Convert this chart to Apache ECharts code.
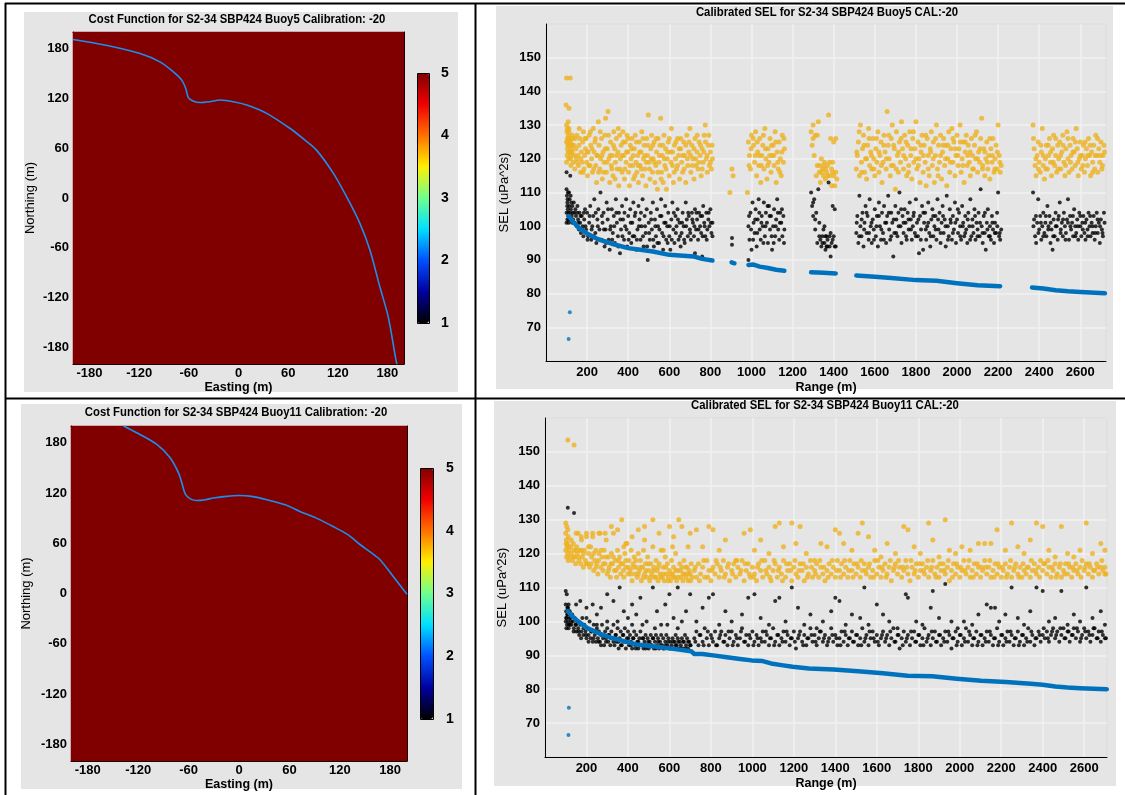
<!DOCTYPE html>
<html><head><meta charset="utf-8">
<script src="https://cdn.jsdelivr.net/npm/echarts@6/dist/echarts.min.js"></script>
<style>html,body{margin:0;padding:0;background:#fff}#c{width:1125px;height:795px}</style>
</head><body><div id="c"></div><script>
// ---------- tick labels ----------
const eastTicks = [-180,-120,-60,0,60,120,180];
const northTicks = [-180,-120,-60,0,60,120,180];
const costTicks = [1,2,3,4,5];
// ---------- cost function maps (uniform cost = 5 everywhere) ----------
const costGrid5 = [[0,0,5]];
const costGrid11 = [[0,0,5]];
// minimum-cost curves (Easting, Northing)
const curve5 = [[-200,191],[-160,184],[-119,174],[-95,164],[-78.7,152],[-68.6,142],[-63.7,132],[-60.6,121],[-55,117],[-46.5,115],[-35,116],[-22.3,118],[-6.3,116],[10,112],[34,102],[62,84],[80,70],[94,58],[114.5,30],[130.6,1.6],[146.7,-30.5],[158.8,-62.6],[170.8,-107],[180.9,-143],[191,-199],[192,-200]];
const curve11 = [[-137.5,200],[-120,191],[-97.8,178],[-82,162],[-72,144],[-68,132],[-64,119],[-58,113],[-50,111],[-40,112],[-30.5,114],[-15,116],[0,117],[15,116],[33,112],[55,106],[72.5,98],[92,90],[112,80],[130,70],[144,58.5],[157,49],[167.6,40.6],[183.4,20.7],[200,-1]];

// ---------- Buoy5 SEL ----------
const orange5 = [
[98,136],[112,135],[100,144],[118,144],[100,130],[102,128],[104,126],[106,124],[108,122],[110,120],[100,119],[103,121],[105,123],[107,125],[109,127],[111,129],[113,126],[115,124],[117,122],[119,120],[121,118],[123,121],[125,124],[127,127],[100,125],[104,129],[108,131],[112,128],[116,126],[120,125],[124,123],[128,122],[130,126],[132,119],[135,124],[138,121],[140,117],[143,126],[146,123],[148,120],
[150,127],[155,121],[158,118],[160,124],[165,126],[168,116],[172,122],[175,119],[178,125],[182,128],[185,117],[188,121],[192,123],[195,126],[198,119],[202,115],[205,122],[210,127],[214,118],[218,124],[222,120],[226,116],[230,129],[234,122],[238,125],[242,118],[246,113],[250,121],
[255,131],[258,124],[262,117],[266,120],[270,126],[274,114],[278,122],[282,119],[286,127],[290,132],[294,116],[298,123],[302,134],[306,120],[310,113],[314,125],[318,118],[322,121],[326,115],[330,128],[334,123],[338,119],[342,126],[346,117],[350,122],
[354,112],[358,127],[362,120],[366,124],[370,116],[374,128],[378,121],[382,114],[386,125],[390,119],[394,127],[398,122],[402,116],[406,112],[410,124],[414,120],[418,126],[422,118],[426,114],[430,123],[434,127],[438,119],[442,116],[446,121],[450,113],
[454,125],[458,118],[462,122],[466,128],[470,115],[474,120],[478,124],[482,117],[486,112],[490,126],[494,121],[498,133],[502,119],[506,114],[510,123],[514,127],[518,116],[522,120],[526,125],[530,113],[534,118],[538,122],[542,111],[546,126],[550,119],
[554,124],[558,132],[562,116],[566,121],[570,113],[574,127],[578,118],[582,123],[586,111],[590,120],[595,125],[600,115],[605,122],[610,129],[615,118],[620,113],[625,124],[630,120],[635,117],[640,126],[645,121],[650,114],
[655,123],[660,119],[665,116],[670,125],[675,121],[680,113],[685,127],[690,118],[695,122],[700,129],[705,116],[710,124],[715,120],[720,114],[725,126],[730,118],[735,122],[740,117],[745,125],[750,121],[755,115],[760,123],[765,119],[770,127],[775,130],[780,120],[785,116],[790,124],[795,118],[800,122],[805,117],[810,120],
[152,119],[162,129],[170,120],[180,116],[190,126],[200,122],[208,118],[216,128],[224,123],[232,117],[240,126],[248,121],[256,116],[264,128],[272,121],[280,116],[288,123],[296,119],[304,127],[312,121],[320,117],[328,124],[336,114],[344,121],[352,129],[360,117],[368,121],[376,125],[384,117],[392,122],[400,126],[408,118],[416,123],[424,121],[432,115],[440,125],[448,118],[456,122],[464,117],[472,126],[480,121],[488,119],[496,124],[504,117],[512,120],[520,124],[528,119],[536,126],[544,116],[552,121],[560,114],[568,124],[576,120],[584,117],[592,122],[600,126],[608,119],[616,122],[624,116],[632,125],[640,118],[648,123],[656,126],[664,121],[672,117],[680,124],[688,120],[696,125],[704,121],[712,118],[720,123],[728,120],[736,127],[744,119],[752,124],[760,117],[768,122],[776,125],[784,121],[792,127],[800,119],[808,124],
[895,110],[905,117],[910,115],
[980,110],[985,125],[990,121],[995,117],[1000,127],[1010,124],[1015,119],[1020,128],[1025,115],[1030,122],[1035,118],[1040,126],[1045,113],[1050,121],[1055,124],[1060,117],[1065,129],[1070,120],[1075,114],[1080,123],[1085,119],[1090,126],[1095,116],[1100,121],[1105,124],[1110,118],[1115,128],[1120,113],[1125,122],[1130,117],[1135,125],[1140,120],[1145,115],[1150,127],[1155,119],[1160,123],
[988,118],[998,123],[1008,126],[1018,121],[1028,125],[1038,121],[1048,118],[1058,127],[1068,123],[1078,118],[1088,121],[1098,124],[1108,121],[1118,125],[1128,119],[1138,116],[1148,122],[1158,126],
[1290,128],[1295,124],[1300,130],[1305,121],[1310,127],[1315,115],[1320,118],[1325,131],[1330,116],[1335,113],[1340,120],[1345,117],[1350,115],[1355,119],[1360,114],[1365,116],[1370,118],[1375,133],[1380,115],[1385,126],[1390,117],[1395,119],[1400,125],[1405,112],[1410,116],[1415,114],[1390,112],
[1330,118],[1340,116],[1350,118],[1360,117],[1370,115],[1380,119],[1395,116],[1410,126],[1400,115],[1300,126],[1320,127],
[1510,117],[1515,121],[1520,125],[1525,115],[1530,130],[1535,119],[1540,123],[1545,127],[1550,116],[1555,120],[1560,114],[1565,124],[1570,129],[1575,118],[1580,122],[1585,117],[1590,126],[1595,120],[1600,115],[1605,123],[1610,119],[1615,128],[1620,116],[1625,121],[1630,125],[1635,113],[1640,119],[1645,127],[1650,122],[1655,117],[1660,134],[1665,124],[1670,120],[1675,115],[1680,126],[1685,130],[1690,118],[1695,123],[1700,111],[1705,128],[1710,121],[1715,116],[1720,125],[1725,119],[1730,131],[1735,123],[1740,117],[1745,127],[1750,120],[1755,115],[1760,124],[1765,118],[1770,128],[1775,121],[1780,114],[1785,126],[1790,119],[1795,123],[1800,131],[1805,117],[1810,125],[1815,120],[1820,113],[1825,122],[1830,127],[1835,116],[1840,124],[1845,119],[1850,112],[1855,126],[1860,121],[1865,115],[1870,123],[1875,128],[1880,118],[1885,125],[1890,113],[1895,121],[1900,130],[1905,117],[1910,124],[1915,119],[1920,127],[1925,114],[1930,122],[1935,126],[1940,118],[1945,124],[1950,112],[1955,120],[1960,128],[1965,116],[1970,123],[1975,129],[1980,119],[1985,125],[1990,115],[1995,121],[2000,127],[2005,118],[2010,123],[2015,130],[2020,116],[2025,120],[2030,125],[2035,113],[2040,122],[2045,127],[2050,118],[2055,124],[2060,119],[2065,115],[2070,126],[2075,121],[2080,117],[2085,124],[2090,120],[2095,128],[2100,116],[2105,122],[2110,119],[2115,126],[2120,132],[2125,118],[2130,123],[2135,115],[2140,120],[2145,125],[2150,117],[2155,121],[2160,114],[2165,123],[2170,119],[2175,126],[2180,116],[2185,120],[2190,124],[2195,117],[2200,130],[2205,121],[2210,116],[2215,118],
[1512,122],[1524,128],[1536,116],[1548,124],[1560,120],[1572,126],[1584,121],[1596,117],[1608,126],[1620,122],[1632,118],[1644,124],[1656,120],[1668,127],[1680,118],[1692,124],[1704,117],[1716,122],[1728,126],[1740,121],[1752,125],[1764,116],[1776,123],[1788,128],[1800,120],[1812,118],[1824,124],[1836,121],[1848,127],[1860,117],[1872,122],[1884,120],[1896,126],[1908,115],[1920,121],[1932,124],[1944,120],[1956,124],[1968,119],[1980,126],[1992,123],[2004,121],[2016,125],[2028,118],[2040,125],[2052,121],[2064,122],[2076,117],[2088,127],[2100,120],[2112,123],[2124,117],[2136,122],[2148,119],[2160,126],[2172,121],[2184,117],[2196,122],[2208,119],
[2370,130],[2375,123],[2380,118],[2385,115],[2390,121],[2395,125],[2400,119],[2405,116],[2410,122],[2415,129],[2420,118],[2425,114],[2430,120],[2435,124],[2440,117],[2445,121],[2450,126],[2455,119],[2460,115],[2465,123],[2470,127],[2475,118],[2480,121],[2485,116],[2490,124],[2495,120],[2500,125],[2505,117],[2510,122],[2515,127],[2520,119],[2525,115],[2530,123],[2535,128],[2540,120],[2545,116],[2550,124],[2555,121],[2560,117],[2565,126],[2570,122],[2575,118],[2580,129],[2585,123],[2590,115],[2595,120],[2600,125],[2605,117],[2610,121],[2615,124],[2620,116],[2625,120],[2630,123],[2635,118],[2640,126],[2645,121],[2650,115],[2655,122],[2660,119],[2665,124],[2670,117],[2675,127],[2680,121],[2685,116],[2690,123],[2695,119],[2700,125],[2705,117],[2710,121],[2715,124],
[2372,126],[2384,120],[2396,117],[2408,124],[2420,121],[2432,117],[2444,124],[2456,122],[2468,119],[2480,126],[2492,117],[2504,121],[2516,124],[2528,118],[2540,126],[2552,119],[2564,122],[2576,125],[2588,119],[2600,121],[2612,118],[2624,125],[2636,121],[2648,124],[2660,116],[2672,121],[2684,126],[2696,121],[2708,118],[2718,122]
];
const black5 = [
[100,116],[118,115],[100,111],[102,109],[104,107],[106,105],[108,103],[110,101],[100,104],[103,106],[105,108],[107,110],[109,104],[111,102],[113,106],[115,108],[117,104],[119,102],[121,105],[123,107],[125,103],[127,101],[100,101],[104,102],[112,110],[120,109],[128,106],[130,104],[132,102],[135,107],[138,104],[140,101],[143,105],[146,103],[150,100],[153,106],[156,102],[160,99],[163,104],[166,101],[170,98],[174,103],[178,100],[182,97],[186,102],[190,105],
[195,99],[200,104],[205,97],[210,101],[215,106],[220,96],[225,100],[230,103],[235,108],[240,98],[245,95],[250,102],[255,105],[260,99],[265,110],[270,96],[275,101],[280,104],[285,94],[290,99],[295,107],[300,102],[305,96],[310,93],[315,100],[320,105],[325,98],[330,103],[335,95],[340,108],[345,101],[350,97],[355,104],[360,92],[365,99],[370,106],[375,102],[380,96],[385,100],[390,108],[395,94],[400,103],[405,98],[410,105],[415,95],[420,101],[425,107],[430,97],[435,104],[440,93],[445,99],[450,106],[455,102],[460,96],[465,100],[470,108],[475,94],[480,103],[485,98],[490,105],[495,90],[500,101],[505,96],[510,104],[515,99],[520,107],[525,94],[530,102],[535,97],[540,105],[545,100],[550,95],[555,103],[560,108],[565,98],[570,93],[575,101],[580,106],[585,96],[590,100],[595,104],[600,97],[605,93],[610,102],[615,107],[620,99],[625,95],[630,103],[635,100],[640,105],[645,96],[650,101],[655,94],[660,98],[665,104],[670,100],[675,95],[680,107],[685,102],[690,97],[695,103],[700,99],[705,96],[710,104],[715,101],[720,97],[725,105],[730,99],[735,102],[740,96],[745,104],[750,100],[755,98],[760,103],[765,106],[770,101],[775,97],[780,104],[785,99],[790,102],[795,100],[800,105],[805,98],[810,101],[725,92],[760,91],
[152,104],[158,101],[168,103],[176,99],[184,104],[192,100],[202,96],[212,103],[222,99],[232,97],[242,104],[252,100],[262,96],[272,103],[282,99],[292,95],[302,105],[312,99],[322,96],[332,100],[342,104],[352,94],[362,102],[372,97],[382,104],[392,99],[402,96],[412,101],[422,97],[432,103],[442,96],[452,100],[462,104],[472,97],[482,100],[492,94],[502,98],[512,102],[522,96],[532,100],[542,95],[552,99],[562,103],[572,97],[582,101],[592,95],[602,100],[612,96],[622,104],[632,98],[642,102],[652,97],[662,101],[672,96],[682,100],[692,104],[702,98],[712,102],[722,100],[732,104],[742,99],[752,103],[762,97],[772,100],[782,96],[792,104],[802,101],[810,97],
[905,96.5],[905,94.5],[985,90],
[985,100],[990,96],[995,104],[1000,93],[1005,107],[1010,101],[1015,98],[1020,105],[1025,94],[1030,102],[1035,108],[1040,99],[1045,96],[1050,103],[1055,100],[1060,107],[1065,97],[1070,104],[1075,101],[1080,95],[1085,106],[1090,99],[1095,103],[1100,93],[1105,100],[1110,105],[1115,97],[1120,102],[1125,108],[1130,99],[1135,96],[1140,104],[1145,101],[1150,97],[1155,103],[1160,99],
[988,103],[998,99],[1008,96],[1018,102],[1028,98],[1038,104],[1048,101],[1058,95],[1068,100],[1078,106],[1088,103],[1098,97],[1108,95],[1118,100],[1128,104],[1138,101],[1148,105],[1158,95],
[1290,110],[1295,106],[1300,103],[1305,108],[1310,99],[1315,104],[1320,95],[1325,111],[1330,101],[1335,96],[1340,94],[1345,97],[1350,99],[1355,95],[1360,93],[1365,97],[1370,96],[1375,113],[1380,94],[1385,98],[1390,95],[1395,106],[1400,97],[1405,105],[1410,94],[1385,91],[1355,100],[1365,94],
[1330,97],[1345,95],[1360,97],[1370,94],[1380,97],[1395,96],[1405,94],[1310,102],[1300,107],
[1510,98],[1515,103],[1520,95],[1525,109],[1530,100],[1535,97],[1540,104],[1545,94],[1550,101],[1555,106],[1560,98],[1565,103],[1570,96],[1575,108],[1580,100],[1585,95],[1590,102],[1595,99],[1600,105],[1605,97],[1610,103],[1615,94],[1620,107],[1625,100],[1630,96],[1635,104],[1640,98],[1645,106],[1650,101],[1655,95],[1660,103],[1665,109],[1670,99],[1675,96],[1680,104],[1685,101],[1690,91],[1695,98],[1700,106],[1705,102],[1710,97],[1715,104],[1720,110],[1725,100],[1730,95],[1735,103],[1740,98],[1745,105],[1750,101],[1755,96],[1760,104],[1765,99],[1770,107],[1775,102],[1780,96],[1785,100],[1790,104],[1795,98],[1800,108],[1805,101],[1810,97],[1815,92],[1820,103],[1825,99],[1830,106],[1835,93],[1840,101],[1845,104],[1850,96],[1855,100],[1860,107],[1865,98],[1870,94],[1875,102],[1880,105],[1885,97],[1890,100],[1895,103],[1900,96],[1905,108],[1910,99],[1915,104],[1920,95],[1925,101],[1930,106],[1935,98],[1940,102],[1945,94],[1950,109],[1955,100],[1960,97],[1965,105],[1970,101],[1975,96],[1980,103],[1985,99],[1990,107],[1995,95],[2000,102],[2005,98],[2010,104],[2015,100],[2020,96],[2025,106],[2030,101],[2035,97],[2040,103],[2045,99],[2050,95],[2055,104],[2060,100],[2065,108],[2070,97],[2075,102],[2080,98],[2085,105],[2090,96],[2095,101],[2100,99],[2105,104],[2110,97],[2115,111],[2120,100],[2125,95],[2130,103],[2135,98],[2140,93],[2145,101],[2150,105],[2155,97],[2160,100],[2165,96],[2170,103],[2175,99],[2180,95],[2185,101],[2190,98],[2195,104],[2200,110],[2205,97],[2210,96],[2215,99],
[1512,101],[1524,97],[1536,102],[1548,99],[1560,104],[1572,98],[1584,101],[1596,96],[1608,100],[1620,103],[1632,99],[1644,96],[1656,101],[1668,104],[1680,97],[1692,102],[1704,98],[1716,100],[1728,105],[1740,101],[1752,97],[1764,102],[1776,99],[1788,103],[1800,97],[1812,102],[1824,96],[1836,104],[1848,99],[1860,101],[1872,97],[1884,103],[1896,99],[1908,102],[1920,98],[1932,103],[1944,100],[1956,96],[1968,102],[1980,98],[1992,101],[2004,105],[2016,97],[2028,100],[2040,98],[2052,102],[2064,96],[2076,100],[2088,103],[2100,97],[2112,101],[2124,98],[2136,104],[2148,99],[2160,97],[2172,101],[2184,98],[2196,100],[2208,98],
[2370,110],[2375,102],[2380,97],[2385,95],[2390,101],[2395,108],[2400,99],[2405,103],[2410,96],[2415,100],[2420,104],[2425,98],[2430,101],[2435,97],[2440,106],[2445,100],[2450,103],[2455,95],[2460,99],[2465,93],[2470,102],[2475,97],[2480,104],[2485,100],[2490,96],[2495,103],[2500,107],[2505,99],[2510,101],[2515,97],[2520,104],[2525,100],[2530,98],[2535,102],[2540,108],[2545,96],[2550,103],[2555,99],[2560,101],[2565,97],[2570,105],[2575,100],[2580,98],[2585,102],[2590,96],[2595,104],[2600,100],[2605,97],[2610,101],[2615,103],[2620,98],[2625,96],[2630,102],[2635,99],[2640,104],[2645,100],[2650,97],[2655,101],[2660,98],[2665,103],[2670,96],[2675,100],[2680,104],[2685,98],[2690,101],[2695,95],[2700,102],[2705,99],[2710,97],[2715,104],
[2372,100],[2384,103],[2396,98],[2408,101],[2420,97],[2432,103],[2444,99],[2456,101],[2468,97],[2480,100],[2492,102],[2504,98],[2516,102],[2528,96],[2540,101],[2552,100],[2564,103],[2576,97],[2588,100],[2600,103],[2612,99],[2624,101],[2636,97],[2648,103],[2660,100],[2672,98],[2684,102],[2696,100],[2708,98],[2718,101]
];
const blue5Segments = [
[[110,103],[130,101.5],[160,99.5],[200,97.8],[250,96.2],[320,94.8],[400,93.5],[460,93],[520,92.5],[600,91.5],[720,91],[760,90.3],[810,89.8]],
[[903,89.3],[917,89.0]],
[[985,88.5],[1010,88.6],[1040,88.0],[1080,87.6],[1120,87.1],[1160,86.8]],
[[1290,86.3],[1350,86.2],[1410,86.0]],
[[1510,85.4],[1600,85.0],[1680,84.6],[1800,84.0],[1900,83.8],[2000,83.1],[2100,82.5],[2210,82.2]],
[[2365,81.8],[2420,81.5],[2480,81.0],[2540,80.7],[2600,80.5],[2720,80.1]]
];
const blue5Outliers = [[116,74.5],[110,66.5]];

// ---------- Buoy11 SEL ----------
const orange11 = [
[110,153.5],[140,152],[100,129],[105,128],[110,127],[100,126],[103,124],[106,122],[109,120],[112,118],[100,121],[104,119],[108,123],[112,125],[116,121],[120,119],[124,122],[128,120],[132,118],[136,123],[140,121],[144,119],[148,117],[152,122],[156,120],[160,126],[164,118],[168,121],[172,117],[176,124],[180,119],[185,116],[190,121],[195,118],[200,125],[205,117],[210,120],[215,116],[220,122],[225,119],[230,125],[235,115],[240,118],[245,121],[250,117],[255,114],[260,120],[265,126],[270,116],[275,119],[280,115],[285,121],[290,117],[295,124],[300,114],[305,119],[310,116],[315,113],[320,120],[325,117],[330,126],[335,115],[340,118],[345,113],[350,121],[355,116],[360,119],[365,114],[370,130],[375,117],[380,113],[385,120],[390,116],[395,123],[400,114],[405,118],[410,115],[415,121],[420,112],[425,117],[430,119],[435,114],[440,116],[445,113],[450,120],[455,115],[460,118],[465,112],[470,116],[475,121],[480,114],[485,117],[490,113],[495,119],[500,115],[505,112],[510,117],[515,114],[520,130],[525,116],[530,113],[535,118],[540,115],[545,112],[550,117],[555,114],[560,121],[565,113],[570,116],[575,112],[580,119],[585,114],[590,117],[595,113],[600,115],[605,112],[610,118],[615,114],[620,116],[625,113],[630,120],[635,112],[640,115],[645,130],[650,117],[655,113],[660,116],[665,112],[670,118],[675,114],[680,113],[685,116],[690,112],[695,115],[700,114],[705,117],[710,113],
[102,123],[114,122],[126,124],[138,119],[150,121],[162,119],[174,121],[186,120],[198,117],[210,122],[222,117],[234,120],[246,116],[258,118],[270,121],[282,117],[294,119],[306,115],[318,117],[330,119],[342,115],[354,118],[366,117],[378,115],[390,118],[402,116],[414,114],[426,116],[438,118],[450,114],[462,116],[474,113],[486,115],[498,117],[510,113],[522,115],[534,113],[546,116],[558,113],[570,114],[582,116],[594,112],[606,114],[618,113],[630,115],[642,113],[654,115],[666,114],[678,116],[690,114],[702,112],
[150,126],[175,125],[200,126],[230,126],[260,126],[290,126],[320,128],[350,127],[390,123],[420,125],[450,127],[480,124],[520,122],[550,126],[570,121],[600,128],[620,125],[660,128],[690,122],[700,126],[615,122],[480,128],[380,122],
[720,115],[730,113],[740,117],[750,114],[760,116],[770,113],[780,118],[790,115],[800,112],[810,116],[820,114],[830,117],[840,113],[850,115],[860,118],[870,114],[880,116],[890,112],[900,115],[910,117],[920,113],[930,116],[940,114],[950,118],[960,112],[970,115],[980,117],[990,113],[1000,116],[1010,114],[1020,112],[1030,117],[1040,115],[1050,113],[1060,118],[1070,114],[1080,116],[1090,112],[1100,115],[1110,117],[1120,113],[1130,116],[1140,114],[1150,118],[1160,113],[1170,115],[1180,117],[1190,112],[1200,116],[1210,114],[1220,113],[1230,117],[1240,115],[1250,112],[1260,116],[1270,114],[1280,118],[1290,113],[1300,115],[1310,117],[1320,113],[1330,116],[1340,114],[1350,112],[1360,115],[1370,117],[1380,114],[1390,116],[1400,113],[1410,118],[1420,115],[1430,117],[1440,114],[1450,116],[1460,113],[1470,118],[1480,115],[1490,117],[1500,114],[1510,116],[1520,113],[1530,115],[1540,117],[1550,114],[1560,116],[1570,113],[1580,115],[1590,118],[1600,114],[1610,116],[1620,113],[1630,115],[1640,117],[1650,114],[1660,116],[1670,112],[1680,115],[1690,117],[1700,114],[1710,116],[1720,113],[1730,115],[1740,118],[1750,114],[1760,112],[1770,116],[1780,114],[1790,117],[1800,113],[1810,115],[1820,117],[1830,114],[1840,116],[1850,113],[1860,115],[1870,118],[1880,114],[1890,116],[1900,113],[1910,115],[1920,117],[1930,114],[1940,116],[1950,112],[1960,115],[1970,117],[1980,114],[1990,116],[2000,113],[2010,115],[2020,118],[2030,114],[2040,116],[2050,113],[2060,115],[2070,117],[2080,114],[2090,116],[2100,113],[2110,115],[2120,118],[2130,114],[2140,116],[2150,113],[2160,115],[2170,117],[2180,114],[2190,116],[2200,113],[2210,115],[2220,117],[2230,114],[2240,116],[2250,113],[2260,115],[2270,117],[2280,114],[2290,116],[2300,113],[2310,115],[2320,114],[2330,116],[2340,113],[2350,115],[2360,117],[2370,114],[2380,116],[2390,118],[2400,115],[2410,117],[2420,114],[2430,116],[2440,113],[2450,115],[2460,117],[2470,114],[2480,116],[2490,113],[2500,115],[2510,117],[2520,114],[2530,116],[2540,113],[2550,115],[2560,117],[2570,114],[2580,116],[2590,118],[2600,115],[2610,117],[2620,114],[2630,116],[2640,113],[2650,115],[2660,117],[2670,114],[2680,116],[2690,115],[2700,116],[2705,114],
[725,116],[745,112],[765,118],[785,113],[805,115],[825,118],[845,116],[865,113],[885,117],[905,114],[925,118],[945,115],[965,117],[985,114],[1005,113],[1025,116],[1045,118],[1065,115],[1085,113],[1105,118],[1125,115],[1145,112],[1165,117],[1185,115],[1205,118],[1225,115],[1245,117],[1265,113],[1285,116],[1305,114],[1325,118],[1345,116],[1365,113],[1385,118],[1405,115],[1425,113],[1445,118],[1465,115],[1485,113],[1505,117],[1525,118],[1545,115],[1565,117],[1585,113],[1605,118],[1625,116],[1645,113],[1665,118],[1685,116],[1705,118],[1725,116],[1745,116],[1765,118],[1785,115],[1805,117],[1825,115],[1845,118],[1865,116],[1885,113],[1905,117],[1925,115],[1945,118],[1965,113],[1985,117],[2005,116],[2025,115],[2045,118],[2065,113],[2085,117],[2105,116],[2125,116],[2145,118],[2165,113],[2185,117],[2205,116],[2225,113],[2245,118],[2265,116],[2285,113],[2305,117],[2325,116],[2345,118],[2365,115],[2385,113],[2405,117],[2425,118],[2445,116],[2465,113],[2485,117],[2505,114],[2525,117],[2545,116],[2565,115],[2585,113],[2605,116],[2625,117],[2645,115],[2665,116],[2685,118],[2700,114],
[730,127],[760,122],[790,128],[810,127],[840,121],[870,124],[920,118],[960,126],[990,127],[1010,121],[1040,124],[1080,120],[1110,128],[1130,129],[1150,122],[1190,129],[1210,123],[1230,128],[1260,120],[1300,118],[1330,123],[1360,122],[1400,127],[1420,126],[1440,123],[1480,121],[1510,126],[1530,129],[1560,125],[1590,121],[1620,119],[1650,123],[1690,120],[1730,128],[1750,127],[1780,122],[1810,120],[1850,129],[1870,124],[1900,119],[1930,130],[1950,121],[1980,120],[2010,122],[2050,121],[2090,123],[2120,123],[2150,123],[2180,127],[2220,121],[2250,129],[2280,122],[2310,120],[2340,124],[2370,129],[2400,128],[2430,121],[2460,119],[2490,128],[2520,120],[2550,119],[2580,121],[2610,129],[2640,120],[2680,123],[2700,121]
];
const black11 = [
[110,133.5],[140,132],[100,109],[105,108],[100,105],[102,103],[104,101],[106,99],[108,104],[110,102],[112,100],[114,105],[116,103],[118,101],[120,99],[100,100],[103,98],[107,102],[111,104],[115,99],[119,103],[123,101],[127,99],[131,102],[135,100],[139,98],[143,101],[147,99],[151,97],[155,100],[160,98],[165,96],[170,99],[175,97],[180,101],[185,96],[190,99],[195,97],[200,95],[205,98],[210,96],[215,100],[220,95],[225,97],[230,94],[235,99],[240,96],[245,94],[250,98],[255,95],[260,97],[265,94],[270,96],[275,99],[280,95],[285,93],[290,97],[295,95],[300,98],[305,94],[310,96],[315,93],[320,97],[325,95],[330,99],[335,93],[340,96],[345,94],[350,98],[355,92],[360,95],[365,97],[370,93],[375,96],[380,94],[385,98],[390,92],[395,95],[400,97],[405,93],[410,96],[415,94],[420,92],[425,95],[430,97],[435,93],[440,96],[445,94],[450,92],[455,95],[460,97],[465,93],[470,95],[475,92],[480,94],[485,96],[490,93],[495,95],[500,92],[505,94],[510,96],[515,93],[520,95],[525,92],[530,94],[535,96],[540,93],[545,95],[550,92],[555,94],[560,96],[565,93],[570,95],[575,92],[580,94],[585,96],[590,93],[595,95],[600,92],[605,94],[610,93],[615,95],[620,92],[625,94],[630,96],[635,93],[640,95],[645,92],[650,94],[655,93],[660,95],[665,92],[670,94],[675,96],[680,93],[685,95],[690,92],[695,94],[700,93],
[102,101],[114,98],[126,100],[138,97],[150,99],[162,97],[174,95],[186,98],[198,96],[210,94],[222,97],[234,95],[246,97],[258,94],[270,93],[282,96],[294,94],[306,96],[318,95],[330,94],[342,96],[354,94],[366,93],[378,96],[390,94],[402,95],[414,93],[426,95],[438,92],[450,94],[462,93],[474,95],[486,92],[498,94],[510,93],[522,95],[534,92],[546,94],[558,93],[570,92],[582,93],[594,94],[606,92],[618,94],[630,93],[642,94],[654,92],[666,94],[678,92],[690,94],[702,93],
[150,105],[170,106],[200,104],[230,105],[250,102],[270,104],[300,108],[330,106],[360,110],[380,103],[400,101],[420,105],[440,102],[460,107],[490,100],[520,110],[540,103],[560,99],[580,105],[600,108],[620,101],[640,110],[660,100],[680,103],[700,108],[350,100],[420,99],[470,99],[530,98],[590,99],[640,98],[250,99],[300,100],[200,101],
[720,95],[730,97],[740,93],[750,96],[760,94],[770,98],[780,95],[790,93],[800,96],[810,94],[820,97],[830,93],[840,95],[850,97],[860,94],[870,96],[880,93],[890,95],[900,97],[910,94],[920,96],[930,93],[940,95],[950,98],[960,94],[970,96],[980,93],[990,95],[1000,97],[1010,94],[1020,96],[1030,93],[1040,95],[1050,97],[1060,94],[1070,96],[1080,93],[1090,95],[1100,98],[1110,94],[1120,96],[1130,93],[1140,95],[1150,97],[1160,94],[1170,96],[1180,93],[1190,95],[1200,97],[1210,92],[1220,95],[1230,97],[1240,94],[1250,96],[1260,93],[1270,95],[1280,98],[1290,94],[1300,96],[1310,93],[1320,95],[1330,97],[1340,94],[1350,96],[1360,93],[1370,95],[1380,98],[1390,94],[1400,96],[1410,93],[1420,95],[1430,97],[1440,94],[1450,96],[1460,93],[1470,95],[1480,97],[1490,94],[1500,96],[1510,93],[1520,95],[1530,98],[1540,94],[1550,96],[1560,93],[1570,95],[1580,97],[1590,94],[1600,96],[1610,93],[1620,95],[1630,97],[1640,94],[1650,96],[1660,93],[1670,95],[1680,98],[1690,94],[1700,96],[1710,92],[1720,95],[1730,97],[1740,94],[1750,96],[1760,93],[1770,95],[1780,97],[1790,94],[1800,96],[1810,93],[1820,95],[1830,98],[1840,94],[1850,96],[1860,93],[1870,95],[1880,97],[1890,94],[1900,96],[1910,93],[1920,95],[1930,97],[1940,94],[1950,96],[1960,92],[1970,95],[1980,97],[1990,94],[2000,96],[2010,93],[2020,95],[2030,98],[2040,94],[2050,96],[2060,93],[2070,95],[2080,97],[2090,94],[2100,96],[2110,93],[2120,95],[2130,97],[2140,94],[2150,96],[2160,93],[2170,95],[2180,98],[2190,94],[2200,96],[2210,93],[2220,95],[2230,97],[2240,94],[2250,96],[2260,93],[2270,95],[2280,97],[2290,94],[2300,96],[2310,93],[2320,95],[2330,98],[2340,94],[2350,96],[2360,93],[2370,95],[2380,97],[2390,94],[2400,96],[2410,95],[2420,97],[2430,94],[2440,96],[2450,98],[2460,95],[2470,97],[2480,94],[2490,96],[2500,98],[2510,95],[2520,97],[2530,94],[2540,96],[2550,98],[2560,95],[2570,97],[2580,94],[2590,96],[2600,98],[2610,95],[2620,97],[2630,94],[2640,96],[2650,98],[2660,95],[2670,97],[2680,94],[2690,96],[2700,95],
[725,94],[745,96],[765,93],[785,97],[805,95],[825,93],[845,96],[865,94],[885,97],[905,93],[925,95],[945,97],[965,94],[985,96],[1005,93],[1025,95],[1045,94],[1065,97],[1085,95],[1105,93],[1125,96],[1145,94],[1165,97],[1185,95],[1205,94],[1225,96],[1245,93],[1265,95],[1285,96],[1305,94],[1325,97],[1345,95],[1365,94],[1385,96],[1405,95],[1425,93],[1445,97],[1465,95],[1485,94],[1505,96],[1525,93],[1545,95],[1565,97],[1585,95],[1605,94],[1625,96],[1645,95],[1665,97],[1685,94],[1705,96],[1725,93],[1745,95],[1765,97],[1785,94],[1805,96],[1825,93],[1845,95],[1865,97],[1885,94],[1905,96],[1925,94],[1945,97],[1965,95],[1985,93],[2005,96],[2025,94],[2045,97],[2065,95],[2085,93],[2105,96],[2125,94],[2145,97],[2165,95],[2185,93],[2205,96],[2225,94],[2245,97],[2265,95],[2285,93],[2305,96],[2325,94],[2345,97],[2365,95],[2385,96],[2405,98],[2425,95],[2445,97],[2465,96],[2485,98],[2505,95],[2525,97],[2545,96],[2565,98],[2585,95],[2605,97],[2625,96],[2645,98],[2665,95],[2685,97],[2705,95],
[730,100],[760,104],[790,107],[810,108],[840,99],[870,103],[900,100],[950,102],[980,107],[1010,108],[1040,101],[1080,99],[1110,106],[1130,107],[1160,100],[1190,110],[1220,104],[1250,99],[1280,102],[1310,98],[1340,100],[1380,103],[1400,107],[1420,106],[1450,99],[1480,102],[1520,101],[1540,110],[1560,99],[1600,105],[1630,102],[1660,100],[1700,98],[1740,108],[1750,107],[1790,100],[1820,99],[1860,104],[1870,109],[1900,101],[1930,111],[1960,100],[1990,98],[2020,100],[2060,99],[2090,102],[2130,105],[2150,104],[2170,104],[2190,100],[2220,102],[2250,110],[2280,101],[2310,99],[2340,103],[2370,110],[2400,109],[2430,100],[2460,101],[2490,109],[2520,99],[2550,102],[2580,100],[2610,110],[2640,101],[2680,103],[2700,99]
];
const blue11Segments = [
[[110,103],[130,101.6],[160,100],[204,98],[260,96.5],[322,95.1],[380,94.2],[441,93.2],[500,92.8],[560,92.4],[620,91.9],[679,91.4],[705,91.2],[720,90.4],[758,90.4],[820,89.9],[877,89.4],[940,88.9],[996,88.5],[1050,88.3],[1090,87.6],[1140,87.1],[1194,86.6],[1273,86.1],[1392,85.8],[1510,85.3],[1629,84.7],[1748,84.0],[1867,83.8],[1985,83.1],[2104,82.5],[2223,82.1],[2342,81.6],[2400,81.3],[2461,80.8],[2520,80.5],[2580,80.3],[2709,80.0]]
];
const blue11Outliers = [[115,74.5],[113,66.5]];

// ---------- styling ----------
const FONT = "'Liberation Sans', Arial, sans-serif";
const jet = ['#000000','#00009f','#0050ff','#00dfff','#70ff8f','#ffef00','#ff7000','#ef0000','#800000'];
const ORANGE = '#EDB120', BLACK = '#000000', BLUE = '#0072BD';

const grids = [
  {left:73, top:32, width:331, height:332},   // 0 map Buoy5
  {left:417, top:73, width:12, height:250},   // 1 colorbar Buoy5
  {left:546, top:24, width:560, height:337},  // 2 SEL Buoy5
  {left:71, top:426, width:336, height:335},  // 3 map Buoy11
  {left:420, top:468, width:13, height:251},  // 4 colorbar Buoy11
  {left:545, top:418, width:562, height:339}  // 5 SEL Buoy11
];
grids.forEach(g => { g.containLabel = false; });
grids[2].show = true; grids[2].borderColor = '#7a7a7a'; grids[2].borderWidth = 1;
grids[5].show = true; grids[5].borderColor = '#7a7a7a'; grids[5].borderWidth = 1;

const xAxes = [], yAxes = [], series = [], visualMaps = [];
function lbl(extra){ return Object.assign({color:'#000', fontFamily:FONT, fontWeight:'bold', fontSize:13}, extra||{}); }
const plain = v => String(v);

function mapPanel(gi, cbGi, costGrid, curve, nameGapX, nameGapY, vm) {
  const xi = xAxes.length, yi = yAxes.length;
  const tick = {show:true, inside:true, length:5, lineStyle:{color:'#000'}};
  xAxes.push({gridIndex:gi, type:'value', min:-200, max:200, position:'bottom',
    axisLine:{show:true, onZero:false, lineStyle:{color:'#000'}},
    axisTick:Object.assign({customValues:eastTicks}, tick),
    axisLabel:lbl({margin:3, customValues:eastTicks}), splitLine:{show:false},
    name:'Easting (m)', nameLocation:'middle', nameGap:nameGapX, nameTextStyle:lbl({fontSize:12.5})});
  xAxes.push({gridIndex:gi, type:'value', min:-200, max:200, position:'top',
    axisLine:{show:true, onZero:false, lineStyle:{color:'#000'}},
    axisTick:Object.assign({customValues:eastTicks}, tick), axisLabel:{show:false}, splitLine:{show:false}});
  xAxes.push({gridIndex:gi, type:'category', data:['cost'], show:false});
  yAxes.push({gridIndex:gi, type:'value', min:-200, max:200, position:'left',
    axisLine:{show:true, onZero:false, lineStyle:{color:'#000'}},
    axisTick:Object.assign({customValues:northTicks}, tick),
    axisLabel:lbl({margin:4, customValues:northTicks}), splitLine:{show:false},
    name:'Northing (m)', nameLocation:'middle', nameGap:nameGapY, nameRotate:90,
    nameTextStyle:lbl({fontWeight:'normal', fontSize:13})});
  yAxes.push({gridIndex:gi, type:'value', min:-200, max:200, position:'right',
    axisLine:{show:true, onZero:false, lineStyle:{color:'#000'}},
    axisTick:Object.assign({customValues:northTicks}, tick), axisLabel:{show:false}, splitLine:{show:false}});
  yAxes.push({gridIndex:gi, type:'category', data:['cost'], show:false});
  const hIdx = series.length;
  series.push({type:'heatmap', xAxisIndex:xi+2, yAxisIndex:yi+2, data:costGrid, silent:true, z:1});
  series.push({type:'line', xAxisIndex:xi, yAxisIndex:yi, data:curve, showSymbol:false, silent:true, smooth:0.3,
    lineStyle:{color:'#1c8ef0', width:1.6}, z:5});
  // colorbar axes
  xAxes.push({gridIndex:cbGi, type:'category', data:['c'], show:false});
  yAxes.push({gridIndex:cbGi, type:'value', min:1, max:5, interval:1, position:'right',
    axisLine:{show:false}, axisTick:{show:true, inside:true, length:3, lineStyle:{color:'#333'}},
    axisLabel:lbl({margin:vm.margin, fontSize:14, customValues:costTicks}), splitLine:{show:false}});
  visualMaps.push({type:'continuous', seriesIndex:hIdx, min:1, max:5, calculable:false, hoverLink:false,
    left:vm.left, top:vm.top, itemWidth:vm.w, itemHeight:vm.h, padding:0, inRange:{color:jet}, z:3});
}

function selPanel(gi, xmax, orange, black, blueSegs, blueOut, nameGapY) {
  const xi = xAxes.length, yi = yAxes.length;
  xAxes.push({gridIndex:gi, type:'value', min:0, max:xmax, interval:200,
    axisLine:{show:true, onZero:false, lineStyle:{color:'#000'}}, axisTick:{show:false},
    axisLabel:lbl({margin:5, showMinLabel:false, showMaxLabel:false, formatter:plain}),
    splitLine:{show:true, lineStyle:{color:'#f1f1f1', width:1.5}},
    name:'Range (m)', nameLocation:'middle', nameGap:20, nameTextStyle:lbl({fontSize:12.5})});
  yAxes.push({gridIndex:gi, type:'value', min:60, max:160, interval:10,
    axisLine:{show:true, onZero:false, lineStyle:{color:'#000'}}, axisTick:{show:false},
    axisLabel:lbl({margin:5, showMinLabel:false, showMaxLabel:false, formatter:plain}),
    splitLine:{show:true, lineStyle:{color:'#f1f1f1', width:1.5}},
    name:'SEL (uPa^2s)', nameLocation:'middle', nameGap:nameGapY, nameRotate:90,
    nameTextStyle:lbl({fontWeight:'normal', fontSize:13})});
  series.push({type:'scatter', xAxisIndex:xi, yAxisIndex:yi, data:orange, symbol:'circle', symbolSize:5,
    itemStyle:{color:ORANGE}, silent:true, z:2});
  series.push({type:'scatter', xAxisIndex:xi, yAxisIndex:yi, data:black, symbol:'circle', symbolSize:4,
    itemStyle:{color:BLACK}, silent:true, z:3});
  blueSegs.forEach(seg => series.push({type:'line', xAxisIndex:xi, yAxisIndex:yi, data:seg, showSymbol:false,
    silent:true, lineStyle:{color:BLUE, width:4.5, cap:'round', join:'round'}, z:4}));
  series.push({type:'scatter', xAxisIndex:xi, yAxisIndex:yi, data:blueOut, symbol:'circle', symbolSize:4,
    itemStyle:{color:BLUE}, silent:true, z:4});
}

mapPanel(0, 1, costGrid5, curve5, 16, 36, {left:417, top:73, w:12, h:250, margin:12});
selPanel(2, 2725, orange5, black5, blue5Segments, blue5Outliers, 35);
mapPanel(3, 4, costGrid11, curve11, 17, 38, {left:420, top:468, w:13, h:251, margin:13});
selPanel(5, 2710, orange11, black11, blue11Segments, blue11Outliers, 36);

function title(x, y, s) {
  return {type:'text', x:x, y:y, scaleX:0.84, silent:true, z:50,
    style:{text:s, fill:'#000', font:'bold 13.5px ' + FONT, textAlign:'center', textVerticalAlign:'middle'}};
}
const graphic = [
  {type:'rect', shape:{x:24, y:12, width:434, height:380}, style:{fill:'#e5e5e5'}, z:-10, silent:true},
  {type:'rect', shape:{x:496, y:6, width:617, height:383}, style:{fill:'#e5e5e5'}, z:-10, silent:true},
  {type:'rect', shape:{x:21, y:404, width:441, height:385}, style:{fill:'#e5e5e5'}, z:-10, silent:true},
  {type:'rect', shape:{x:494, y:401, width:622, height:385}, style:{fill:'#e5e5e5'}, z:-10, silent:true},
  {type:'line', shape:{x1:5, y1:3.5, x2:1125, y2:3.5}, style:{stroke:'#000', lineWidth:2}, z:60, silent:true},
  {type:'line', shape:{x1:5, y1:398.5, x2:1125, y2:398.5}, style:{stroke:'#000', lineWidth:2}, z:60, silent:true},
  {type:'line', shape:{x1:5.5, y1:3, x2:5.5, y2:795}, style:{stroke:'#000', lineWidth:2}, z:60, silent:true},
  {type:'line', shape:{x1:475.5, y1:3, x2:475.5, y2:795}, style:{stroke:'#000', lineWidth:2}, z:60, silent:true},
  {type:'rect', shape:{x:417.5, y:73.5, width:12, height:250}, style:{fill:'none', stroke:'#000', lineWidth:1}, z:60, silent:true},
  {type:'rect', shape:{x:420.5, y:468.5, width:13, height:251}, style:{fill:'none', stroke:'#000', lineWidth:1}, z:60, silent:true},
  title(237, 19, 'Cost Function for S2-34 SBP424 Buoy5 Calibration: -20'),
  title(827, 12, 'Calibrated SEL for S2-34 SBP424 Buoy5 CAL:-20'),
  title(236, 412, 'Cost Function for S2-34 SBP424 Buoy11 Calibration: -20'),
  title(825, 405, 'Calibrated SEL for S2-34 SBP424 Buoy11 CAL:-20')
];

const chart = echarts.init(document.getElementById('c'), null, {renderer:'canvas'});
chart.setOption({
  animation:false,
  backgroundColor:'#ffffff',
  grid:grids, xAxis:xAxes, yAxis:yAxes, visualMap:visualMaps, series:series, graphic:graphic
});
</script></body></html>
